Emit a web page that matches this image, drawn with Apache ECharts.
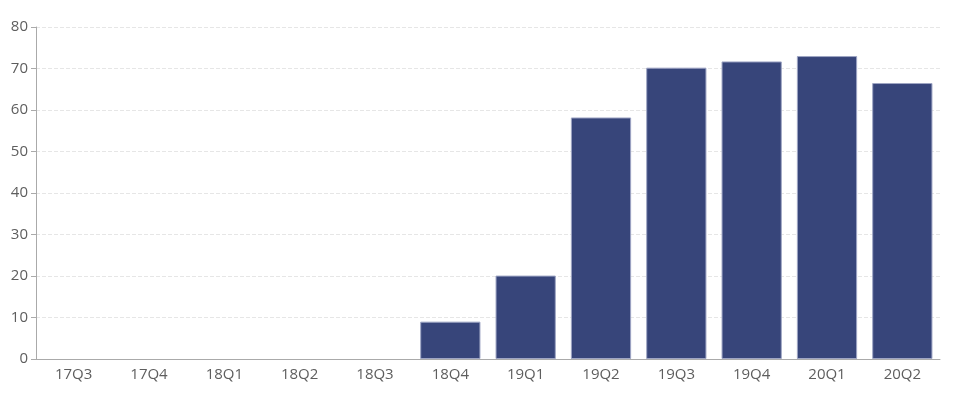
<!DOCTYPE html>
<html>
<head>
<meta charset="utf-8">
<script src="https://cdn.jsdelivr.net/npm/echarts@6/dist/echarts.min.js"></script>
<style>
  html, body { margin: 0; padding: 0; background: #fff; }
  #main { width: 959px; height: 399px; }
</style>
</head>
<body>
<div id="main"></div>
<script>
// 季度
const categories = ['17Q3', '17Q4', '18Q1', '18Q2', '18Q3', '18Q4', '19Q1', '19Q2', '19Q3', '19Q4', '20Q1', '20Q2']
// 数值
const values = [0, 0, 0, 0, 0, 9.0, 20.1, 58.2, 70.2, 71.7, 73.0, 66.5]

const chart = echarts.init(document.getElementById('main'))
const option = {
  backgroundColor: '#ffffff',
  animation: false,
  grid: { left: 36, right: 19, top: 27, bottom: 40 },
  xAxis: {
    type: 'category',
    data: categories,
    axisLine: { lineStyle: { color: '#aaaaaa' } },
    axisTick: { lineStyle: { color: '#aaaaaa' } },
    axisLabel: { color: '#5e5e5e', fontSize: 15, margin: 8, fontFamily: 'Open Sans' }
  },
  yAxis: {
    type: 'value',
    min: 0,
    max: 80,
    interval: 10,
    axisLine: { show: true, lineStyle: { color: '#aaaaaa' } },
    axisTick: { show: true, length: 5, lineStyle: { color: '#aaaaaa' } },
    axisLabel: { color: '#5e5e5e', fontSize: 15, margin: 8, fontFamily: 'Open Sans' },
    splitLine: { lineStyle: { color: '#e6e6e6', type: 'dashed' } }
  },
  series: [{
    type: 'bar',
    // 0值不画边框
    data: values.map(v => ({ value: v, itemStyle: { borderWidth: v ? 1 : 0 } })),
    barCategoryGap: '20%',
    itemStyle: {
      color: '#37457a',
      borderColor: '#9ea5c4',
      borderWidth: 1
    }
  }]
}
chart.setOption(option)
</script>
</body>
</html>
